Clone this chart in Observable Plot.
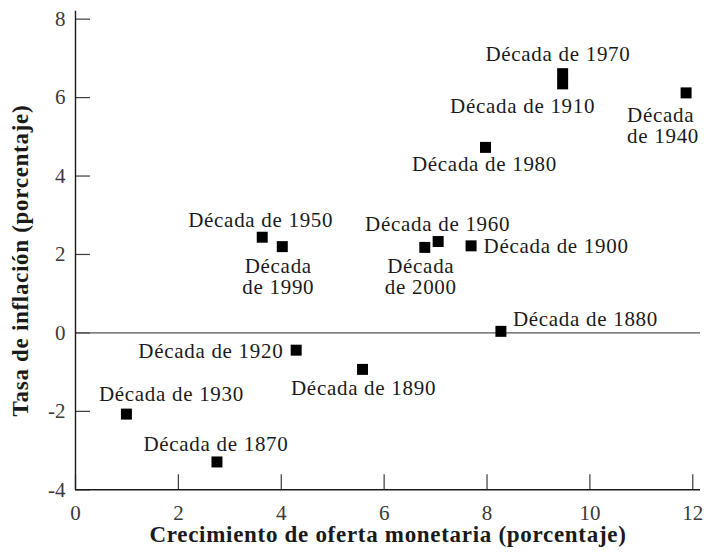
<!DOCTYPE html>
<html>
<head>
<meta charset="utf-8">
<script src="https://cdn.jsdelivr.net/npm/d3@7"></script>
<script src="https://cdn.jsdelivr.net/npm/@observablehq/plot@0.6"></script>
<style>
  body { margin: 0; background: #fff; }
  #chart svg { display: block; }
  #chart svg, #chart svg text, #chart svg tspan { font-family: "Liberation Serif", serif !important; }
  #chart g[aria-label="text"] text { letter-spacing: 0.7px; }
</style>
</head>
<body>
<div id="chart"></div>
<script>
// ---- data ----
const decades = ["1870","1880","1890","1900","1910","1920","1930","1940","1950","1960","1970","1980","1990","2000"];
const moneyGrowth = [2.75, 8.27, 5.58, 7.69, 9.47, 4.29, 0.99, 11.87, 3.63, 7.05, 9.47, 7.97, 4.02, 6.79];
const inflation   = [-3.29, 0.04, -0.93, 2.22, 6.35, -0.44, -2.07, 6.12, 2.44, 2.33, 6.61, 4.73, 2.20, 2.18];
const labels = [
  "Década de 1870", "Década de 1880", "Década de 1890", "Década de 1900",
  "Década de 1910", "Década de 1920", "Década de 1930", "Década\nde 1940",
  "Década de 1950", "Década de 1960", "Década de 1970", "Década de 1980",
  "Década\nde 1990", "Década\nde 2000"
];
const xTicks = [0, 2, 4, 6, 8, 10, 12];
const yTicks = [-4, -2, 0, 2, 4, 6, 8];
const xTitle = "Crecimiento de oferta monetaria (porcentaje)";
const yTitle = "Tasa de inflación (porcentaje)";

const data = decades.map((d, i) => ({decade: d, x: moneyGrowth[i], y: inflation[i], label: labels[i]}));

const FONT = "Liberation Serif";

// ---- label placement (layout, relative to each marker) ----
const placement = {
  "1870": {dx: -1,   dy: -11,  textAnchor: "middle"},
  "1880": {dx: 12,   dy: -5.5, textAnchor: "start"},
  "1890": {dx: 1,    dy: 25.5, textAnchor: "middle"},
  "1900": {dx: 12.5, dy: 6.7,  textAnchor: "start"},
  "1910": {dx: -40,  dy: 28.7, textAnchor: "middle"},
  "1920": {dx: -12.8,dy: 7.5,  textAnchor: "end"},
  "1930": {dx: 45,   dy: -13,  textAnchor: "middle"},
  "1940": {dx: -59,  dy: 49.7, textAnchor: "start"},
  "1950": {dx: -1.5, dy: -10.5,textAnchor: "middle"},
  "1960": {dx: -0.5, dy: -10.8,textAnchor: "middle"},
  "1970": {dx: -4.7, dy: -13,  textAnchor: "middle"},
  "1980": {dx: -1,   dy: 23.3, textAnchor: "middle"},
  "1990": {dx: -4,   dy: 46.9, textAnchor: "middle"},
  "2000": {dx: -4,   dy: 46.3, textAnchor: "middle"}
};

const labelMarks = decades.map(dec => Plot.text(data.filter(d => d.decade === dec), {
  x: "x", y: "y", text: "label",
  lineAnchor: "bottom", lineHeight: 0.98,
  fontFamily: FONT, fontSize: 21, fill: "#1a1a1a",
  ...placement[dec]
}));

const chart = Plot.plot({
  width: 706,
  height: 552,
  marginLeft: 75,
  marginRight: 6,
  marginTop: 10.8,
  marginBottom: 62.7,
  style: {fontFamily: "'Liberation Serif', serif", background: "#fff"},
  x: {domain: [0, 12.15]},
  y: {domain: [-4, 8.2]},
  marks: [
    Plot.axisX({ticks: xTicks, tickSize: -15, tickPadding: 30, tickFormat: d => String(d),
      fontFamily: FONT, fontSize: 21, color: "#3a3a3a", strokeWidth: 1.2, label: null}),
    Plot.axisY({ticks: yTicks, tickSize: -15, tickPadding: 25, tickFormat: d => String(d),
      fontFamily: FONT, fontSize: 21, color: "#3a3a3a", strokeWidth: 1.2, label: null}),
    Plot.ruleY([0], {stroke: "#555", strokeWidth: 1.3}),
    Plot.ruleX([0], {stroke: "#1a1a1a", strokeWidth: 1.4}),
    Plot.ruleY([-4], {stroke: "#1a1a1a", strokeWidth: 1.4}),
    Plot.dot(data, {x: "x", y: "y", symbol: "square", r: 6.2, fill: "#000", stroke: null}),
    ...labelMarks,
    Plot.text([xTitle], {text: d => d, frameAnchor: "bottom", lineAnchor: "bottom", dy: 52.5,
      fontFamily: FONT, fontSize: 23, fontWeight: "bold", fill: "#1a1a1a"}),
    Plot.text([yTitle], {text: d => d, frameAnchor: "left", rotate: -90, lineAnchor: "bottom",
      textAnchor: "middle", dx: -47.7, dy: 10, fontFamily: FONT, fontSize: 23, fontWeight: "bold", fill: "#1a1a1a"})
  ]
});

document.getElementById("chart").appendChild(chart);
</script>
</body>
</html>
